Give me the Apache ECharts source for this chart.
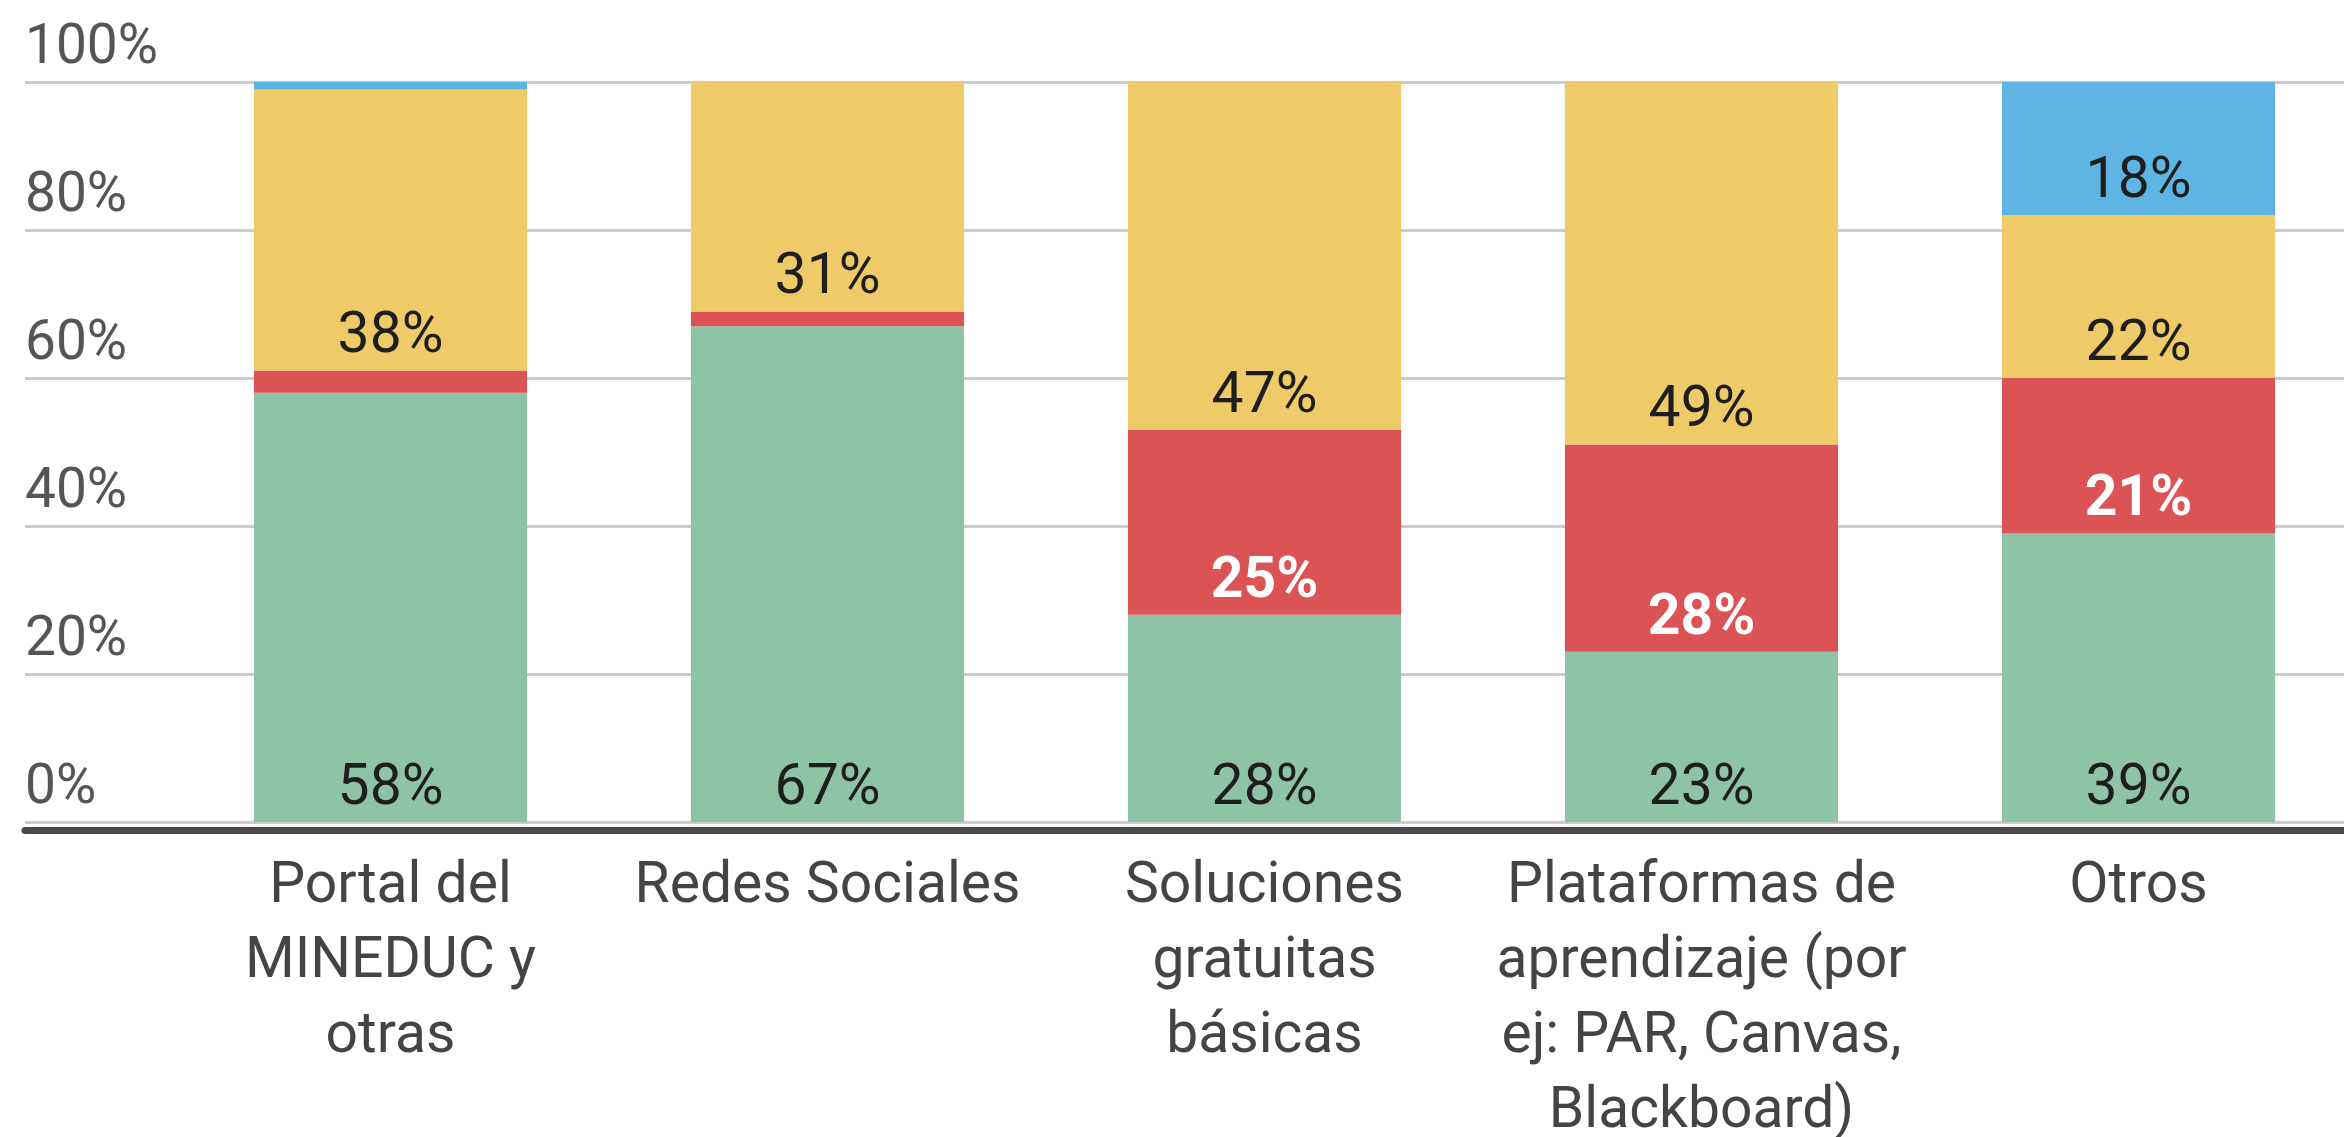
<!DOCTYPE html>
<html lang="es">
<head>
<meta charset="utf-8">
<title>Uso de plataformas</title>
<script src="https://cdn.jsdelivr.net/npm/echarts@6/dist/echarts.min.js"></script>
<style>
  html, body { margin: 0; padding: 0; background: #fff; }
  #chart { width: 2344px; height: 1137px; }
</style>
</head>
<body>
<div id="chart"></div>
<script>
// datos (porcentajes)
var categorias = ['Portal del\nMINEDUC y\notras', 'Redes Sociales', 'Soluciones\ngratuitas\nbásicas',
                  'Plataformas de\naprendizaje (por\nej: PAR, Canvas,\nBlackboard)', 'Otros'];
var verde    = [58, 67, 28, 23, 39];
var rojo     = [3, 2, 25, 28, 21];
var amarillo = [38, 31, 47, 49, 22];
var azul     = [1, 0, 0, 0, 18];
var ticksY   = [0, 20, 40, 60, 80, 100];

var fuente = 'Roboto';

function etiqueta(color, negrita) {
  return {
    show: true,
    position: 'insideBottom',
    distance: 4,
    fontFamily: fuente,
    fontSize: 57,
    color: color,
    fontWeight: negrita ? 'bold' : 'normal',
    formatter: function (p) { return p.value >= 10 ? p.value + '%' : ''; }
  };
}

function serie(nombre, datos, color, lbl) {
  return {
    name: nombre,
    type: 'bar',
    stack: 'total',
    xAxisIndex: 1,
    yAxisIndex: 1,
    barWidth: '62.5%',
    data: datos,
    itemStyle: { color: color },
    label: lbl
  };
}

var chart = echarts.init(document.getElementById('chart'));
chart.setOption({
  animation: false,
  backgroundColor: '#ffffff',
  grid: [
    { left: 25, right: 0, top: 82, bottom: 315, outerBoundsMode: 'none' },
    { left: 172, width: 2185, top: 82, bottom: 315, outerBoundsMode: 'none' }
  ],
  xAxis: [
    {
      gridIndex: 0, type: 'value', min: 0, max: 1, offset: 8,
      axisLine: { show: true, onZero: false, lineStyle: { color: '#4a4a4a', width: 7 } },
      axisTick: { show: false }, axisLabel: { show: false }, splitLine: { show: false }
    },
    {
      gridIndex: 1, type: 'category', data: categorias,
      axisLine: { show: false }, axisTick: { show: false },
      axisLabel: {
        margin: 28, fontFamily: fuente, fontSize: 57, lineHeight: 75, color: '#444',
        interval: 0, verticalAlign: 'top'
      }
    }
  ],
  yAxis: [
    {
      gridIndex: 0, type: 'value', min: 0, max: 100, interval: 20,
      axisLine: { show: false }, axisTick: { show: false },
      splitLine: { lineStyle: { color: '#cccccc', width: 3 } },
      axisLabel: {
        inside: true, margin: 0, verticalAlign: 'bottom', padding: [0, 0, 5, 0],
        fontFamily: fuente, fontSize: 55, color: '#555',
        formatter: function (v) { return ticksY.indexOf(v) >= 0 ? v + '%' : ''; }
      }
    },
    {
      gridIndex: 1, type: 'value', min: 0, max: 100, show: false
    }
  ],
  series: [
    serie('Serie 1', verde, '#8fc3a7', etiqueta('#1e1e1e', false)),
    serie('Serie 2', rojo, '#dc5356', etiqueta('#ffffff', true)),
    serie('Serie 3', amarillo, '#eeca69', etiqueta('#1e1e1e', false)),
    serie('Serie 4', azul, '#5eb5e3', etiqueta('#1e1e1e', false))
  ]
});
</script>
</body>
</html>
